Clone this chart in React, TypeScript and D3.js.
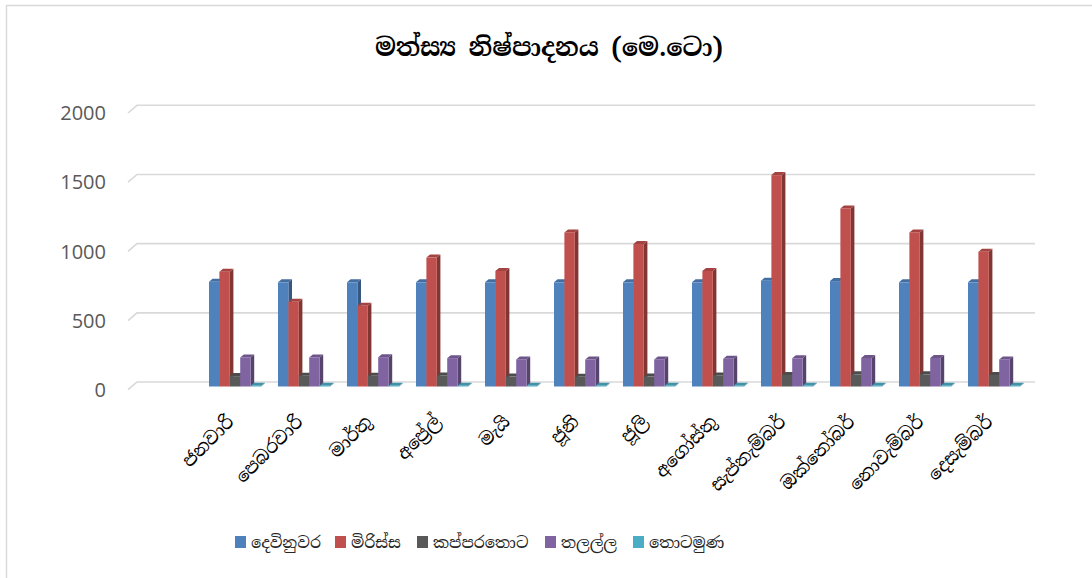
import * as d3 from 'd3';

// monthly fish production (metric tonnes) per landing site
const months = ['ජනවාරි', 'පෙබරවාරි', 'මාර්තු', 'අප්‍රේල්', 'මැයි', 'ජූනි', 'ජූලි', 'අගෝස්තු', 'සැප්තැම්බර්', 'ඔක්තෝබර්', 'නොවැම්බර්', 'දෙසැම්බර්'];
const seriesNames = ['දෙවිනුවර', 'මිරිස්ස', 'කප්පරතොට', 'තලල්ල', 'තොටමුණ'];
const devinuwara = [757, 753, 753, 753, 753, 753, 753, 753, 765, 762, 753, 753];
const mirissa = [830, 613, 584, 932, 835, 1114, 1030, 835, 1528, 1287, 1114, 974];
const kappara = [75, 78, 78, 80, 72, 70, 72, 80, 83, 88, 88, 83];
const thalalla = [210, 210, 212, 205, 196, 195, 196, 200, 204, 206, 206, 196];
const thotamuna = [5, 5, 5, 5, 5, 5, 5, 5, 5, 5, 5, 5];
const yTicks = [0, 500, 1000, 1500, 2000];
const colors = ['#4F81BD', '#C0504D', '#595959', '#8064A2', '#4BACC6'];

const allSeries = [devinuwara, mirissa, kappara, thalalla, thotamuna];

const W = 1092;
const H = 578;
const depthX = 3.6;
const depthY = 3;
const frontShift = 4.5;
const sinhala = '"Iskoola Pota", "Noto Serif Sinhala", "Noto Sans Sinhala", LKLUG, sans-serif';

// legend item x positions (square left edges)
const legendX = [235, 335, 417, 545, 633];

export default function App() {
  const y = d3.scaleLinear().domain([0, 2000]).range([382, 105.3]);
  const x0 = d3.scaleBand<string>().domain(months).range([200.5, 1028.5]).paddingInner(0.246).paddingOuter(0.123);
  const x1 = d3.scaleBand<string>().domain(seriesNames).range([0, x0.bandwidth()]);
  const bw = x1.bandwidth();

  const bars: { key: string; x: number; top: number; base: number; color: string }[] = [];
  months.forEach((m, i) => {
    seriesNames.forEach((s, j) => {
      bars.push({
        key: m + s,
        x: (x0(m) ?? 0) + (x1(s) ?? 0),
        top: y(allSeries[j][i]) + frontShift,
        base: y(0) + frontShift,
        color: colors[j],
      });
    });
  });

  return (
    <svg width={W} height={H} style={{ position: 'absolute', left: 0, top: 0, background: '#fff' }}>
      <rect x={6.5} y={5.5} width={W + 20} height={H + 20} fill="#fff" stroke="#d9d9d9" strokeWidth={1.5} />
      <text x={549} y={47} textAnchor="middle" dominantBaseline="central" fontFamily={sinhala} fontWeight="bold" fontSize={25} fill="#000">
        මත්ස්‍ය නිෂ්පාදනය (මෙ.ටො)
      </text>

      {yTicks.map(t => (
        <g key={t}>
          <polyline points={`128,${y(t) + 7.7} 137,${y(t)} 1035,${y(t)}`} fill="none" stroke="#d9d9d9" strokeWidth={1.6} />
          <text x={106} y={y(t) + 7.5} textAnchor="end" dominantBaseline="central" fontFamily='"Open Sans", sans-serif' fontSize={20} fill="#595959">
            {t}
          </text>
        </g>
      ))}

      {bars.map(b => {
        const side = d3.color(b.color)!.darker(1.1).formatHex();
        const topC = d3.color(b.color)!.darker(0.45).formatHex();
        return (
          <g key={b.key}>
            <polygon
              points={`${b.x + bw},${b.top} ${b.x + bw + depthX},${b.top - depthY} ${b.x + bw + depthX},${b.base - depthY} ${b.x + bw},${b.base}`}
              fill={side}
            />
            <polygon
              points={`${b.x},${b.top} ${b.x + depthX},${b.top - depthY} ${b.x + bw + depthX},${b.top - depthY} ${b.x + bw},${b.top}`}
              fill={topC}
            />
            <rect x={b.x} y={b.top} width={bw} height={Math.max(0, b.base - b.top)} fill={b.color} />
          </g>
        );
      })}

      {months.map(m => {
        const cx = (x0(m) ?? 0) + x0.bandwidth() / 2;
        return (
          <text key={m} transform={`translate(${cx},423) rotate(-45)`} textAnchor="end" fontFamily={sinhala} fontSize={18} fill="#000">
            {m}
          </text>
        );
      })}

      {seriesNames.map((s, j) => (
        <g key={s}>
          <rect x={legendX[j]} y={536} width={11} height={12} fill={colors[j]} />
          <text x={legendX[j] + 16} y={542} dominantBaseline="central" fontFamily={sinhala} fontSize={16} fill="#262626">
            {s}
          </text>
        </g>
      ))}
    </svg>
  );
}
